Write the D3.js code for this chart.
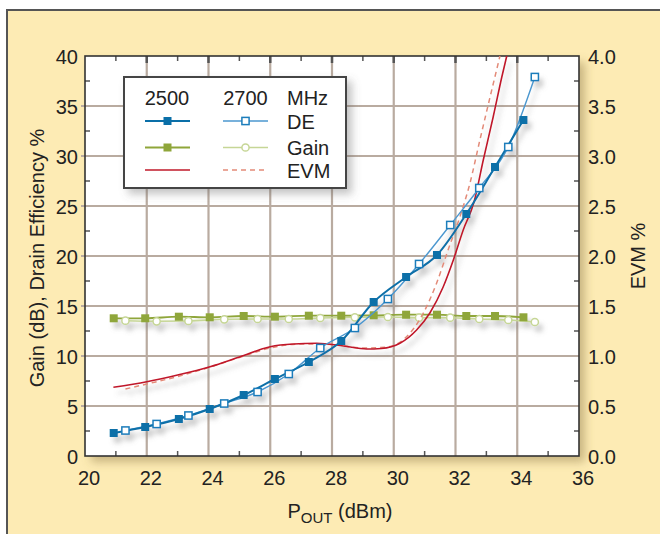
<!DOCTYPE html>
<html><head><meta charset="utf-8">
<script src="https://cdn.jsdelivr.net/npm/d3@7"></script>
<style>
html,body{margin:0;padding:0;background:#fff;}
svg{display:block;font-family:"Liberation Sans",Arial,Helvetica,sans-serif;}
</style></head>
<body>
<svg id="chart" width="660" height="534"></svg>
<script>
// ---- data ----
const pout2500 = [20.93,21.95,23.04,24.04,25.14,26.15,27.25,28.30,29.35,30.40,31.40,32.35,33.28,34.20];
const de2500   = [2.3,2.9,3.7,4.7,6.1,7.7,9.4,11.5,15.4,17.9,20.1,24.2,28.9,33.6];
const gain2500 = [13.77,13.77,13.93,13.87,14.0,13.93,14.03,14.03,14.07,14.13,14.13,14.0,14.0,13.87];
const pout2700 = [21.31,22.32,23.35,24.51,25.59,26.60,27.62,28.74,29.81,30.82,31.83,32.77,33.71,34.57];
const de2700   = [2.55,3.2,4.05,5.25,6.4,8.2,10.8,12.8,15.7,19.2,23.1,26.8,30.9,37.9];
const gain2700 = [13.53,13.47,13.5,13.67,13.7,13.7,13.8,13.87,13.9,13.83,13.83,13.7,13.6,13.4];
const evmX2500 = [20.92,22.0,23.0,24.05,25.0,26.0,26.75,27.5,28.37,29.12,29.6,30.2,30.74,31.17,31.6,31.93,32.25,32.6,32.9,33.22,33.5,33.66];
const evm2500  = [0.687,0.743,0.81,0.893,0.99,1.093,1.12,1.127,1.10,1.07,1.075,1.127,1.26,1.43,1.69,1.96,2.26,2.54,2.96,3.39,3.79,4.0];
const evmX2700 = [21.31,22.0,23.0,24.0,25.0,26.0,27.0,28.0,29.0,29.8,30.36,30.96,31.39,31.76,32.14,32.47,32.79,33.12,33.44];
const evm2700  = [0.67,0.72,0.795,0.885,0.985,1.08,1.12,1.115,1.08,1.09,1.177,1.43,1.73,2.06,2.39,2.73,3.16,3.59,4.0];
const xTicks = [20,22,24,26,28,30,32,34,36];
const yTicksL = [0,5,10,15,20,25,30,35,40];
const yTicksR = [0,0.5,1.0,1.5,2.0,2.5,3.0,3.5,4.0];

// ---- layout ----
const svg = d3.select("#chart");
const L = 85, R = 579, T = 56, B = 456;
const x = d3.scaleLinear().domain([20,36]).range([L,R]);
const y = d3.scaleLinear().domain([0,40]).range([B,T]);
const yR = d3.scaleLinear().domain([0,4]).range([B,T]);

const defs = svg.append("defs");
const f1 = defs.append("filter").attr("id","plotShadow").attr("x","-10%").attr("y","-10%").attr("width","130%").attr("height","130%");
f1.append("feDropShadow").attr("dx",6).attr("dy",6).attr("stdDeviation",5).attr("flood-color","#8a7340").attr("flood-opacity",0.45);
const f2 = defs.append("filter").attr("id","lineShadow").attr("x","-10%").attr("y","-10%").attr("width","130%").attr("height","130%");
f2.append("feDropShadow").attr("dx",4).attr("dy",6).attr("stdDeviation",2.5).attr("flood-color","#777").attr("flood-opacity",0.35);
const f3 = defs.append("filter").attr("id","boxShadow").attr("x","-10%").attr("y","-10%").attr("width","130%").attr("height","130%");
f3.append("feDropShadow").attr("dx",5).attr("dy",5).attr("stdDeviation",4).attr("flood-color","#666").attr("flood-opacity",0.4);
defs.append("clipPath").attr("id","plotClip").append("rect").attr("x",L).attr("y",T).attr("width",R-L).attr("height",B-T);

// frame
svg.append("rect").attr("x",7).attr("y",10).attr("width",700).attr("height",600)
  .attr("fill","#fdebb4").attr("stroke","#555").attr("stroke-width",2);

// plot background
svg.append("rect").attr("x",L).attr("y",T).attr("width",R-L).attr("height",B-T)
  .attr("fill","#fff").attr("filter","url(#plotShadow)");

// grid
const gridC = "#b9aba0";
const grid = svg.append("g");
grid.selectAll("line.gx").data(xTicks.slice(1,-1)).join("line")
  .attr("x1",d=>x(d)).attr("x2",d=>x(d)).attr("y1",T).attr("y2",B)
  .attr("stroke",gridC).attr("stroke-width",2.2);
grid.selectAll("line.gy").data(yTicksL.slice(1,-1)).join("line")
  .attr("x1",L-4).attr("x2",R).attr("y1",d=>y(d)).attr("y2",d=>y(d))
  .attr("stroke",gridC).attr("stroke-width",2.2);

// ticks
const tk = svg.append("g").attr("stroke","#555");
const minorX = d3.range(21,36,2);
const minorY = d3.range(2.5,40,5);
minorX.forEach(v=>{
  tk.append("line").attr("x1",x(v)).attr("x2",x(v)).attr("y1",T).attr("y2",T+5).attr("stroke-width",1.5);
  tk.append("line").attr("x1",x(v)).attr("x2",x(v)).attr("y1",B).attr("y2",B-5).attr("stroke-width",1.5);
});
xTicks.slice(1,-1).forEach(v=>{
  tk.append("line").attr("x1",x(v)).attr("x2",x(v)).attr("y1",T).attr("y2",T+7).attr("stroke-width",2.5);
});
minorY.forEach(v=>{
  tk.append("line").attr("x1",L).attr("x2",L+5).attr("y1",y(v)).attr("y2",y(v)).attr("stroke-width",1.5);
  tk.append("line").attr("x1",R).attr("x2",R-5).attr("y1",y(v)).attr("y2",y(v)).attr("stroke-width",1.5);
});

// plot border
svg.append("rect").attr("x",L).attr("y",T).attr("width",R-L).attr("height",B-T)
  .attr("fill","none").attr("stroke","#333").attr("stroke-width",1.6);

// tick labels
const txt = svg.append("g").attr("fill","#222").attr("font-size",20);
txt.selectAll("text.xl").data(xTicks).join("text")
  .attr("x",d=>x(d)+4).attr("y",485).attr("text-anchor","middle").text(d=>d);
txt.selectAll("text.yl").data(yTicksL).join("text")
  .attr("x",78).attr("y",d=>y(d)+8).attr("text-anchor","end").text(d=>d);
txt.selectAll("text.yr").data(yTicksR).join("text")
  .attr("x",588).attr("y",d=>yR(d)+8).attr("text-anchor","start").text(d=>d.toFixed(1));

// axis titles
svg.append("text").attr("transform","translate(44,258) rotate(-90)").attr("text-anchor","middle")
  .attr("font-size",20).attr("fill","#222").text("Gain (dB), Drain Efficiency %");
svg.append("text").attr("transform","translate(645,256) rotate(-90)").attr("text-anchor","middle")
  .attr("font-size",20).attr("fill","#222").text("EVM %");
const xt = svg.append("text").attr("x",340).attr("y",518).attr("text-anchor","middle").attr("font-size",20).attr("fill","#222");
xt.append("tspan").text("P");
xt.append("tspan").attr("font-size",15).attr("dy",5).text("OUT");
xt.append("tspan").attr("dy",-5).text(" (dBm)");

// ---- series ----
const C = {de25:"#0a6fa8", de27:"#4b97cf", de27m:"#1c7dbb", g25:"#8fa63a", g27:"#c6d696", e25:"#c0182a", e27:"#e38a78"};
const curve = d3.curveMonotoneX;
const zip = (xs,ys)=>xs.map((v,i)=>[v,ys[i]]);
const lineL = d3.line().x(d=>x(d[0])).y(d=>y(d[1])).curve(curve);
const lineR = d3.line().x(d=>x(d[0])).y(d=>yR(d[1])).curve(curve);

const data = svg.append("g").attr("filter","url(#lineShadow)");
const clipG = data.append("g").attr("clip-path","url(#plotClip)");

// gain
clipG.append("path").attr("d",lineL(zip(pout2700,gain2700))).attr("fill","none").attr("stroke",C.g27).attr("stroke-width",1.6);
clipG.append("path").attr("d",lineL(zip(pout2500,gain2500))).attr("fill","none").attr("stroke",C.g25).attr("stroke-width",1.8);
clipG.selectAll("circle.g27").data(zip(pout2700,gain2700)).join("circle")
  .attr("cx",d=>x(d[0])).attr("cy",d=>y(d[1])).attr("r",3.6).attr("fill","#fff").attr("stroke",C.g27).attr("stroke-width",1.5);
clipG.selectAll("rect.g25").data(zip(pout2500,gain2500)).join("rect")
  .attr("x",d=>x(d[0])-4).attr("y",d=>y(d[1])-4).attr("width",8).attr("height",8).attr("fill",C.g25);

// EVM
clipG.append("path").attr("d",lineR(zip(evmX2700,evm2700))).attr("fill","none").attr("stroke",C.e27).attr("stroke-width",1.5).attr("stroke-dasharray","5,4");
clipG.append("path").attr("d",lineR(zip(evmX2500,evm2500))).attr("fill","none").attr("stroke",C.e25).attr("stroke-width",1.6);

// DE
clipG.append("path").attr("d",lineL(zip(pout2700,de2700))).attr("fill","none").attr("stroke",C.de27).attr("stroke-width",1.4);
clipG.append("path").attr("d",lineL(zip(pout2500,de2500))).attr("fill","none").attr("stroke",C.de25).attr("stroke-width",2);
clipG.selectAll("rect.d27").data(zip(pout2700,de2700)).join("rect")
  .attr("x",d=>x(d[0])-3.6).attr("y",d=>y(d[1])-3.6).attr("width",7.2).attr("height",7.2)
  .attr("fill","#fff").attr("stroke",C.de27m).attr("stroke-width",1.5);
clipG.selectAll("rect.d25").data(zip(pout2500,de2500)).join("rect")
  .attr("x",d=>x(d[0])-4).attr("y",d=>y(d[1])-4).attr("width",8).attr("height",8).attr("fill",C.de25);

// ---- legend ----
const lg = svg.append("g");
lg.append("rect").attr("x",124).attr("y",77).attr("width",222).attr("height",111)
  .attr("fill","#fff").attr("stroke","#444").attr("stroke-width",2).attr("filter","url(#boxShadow)");
const lt = lg.append("g").attr("font-size",20).attr("fill","#222");
lt.append("text").attr("x",167).attr("y",105).attr("text-anchor","middle").text("2500");
lt.append("text").attr("x",245.5).attr("y",105).attr("text-anchor","middle").text("2700");
lt.append("text").attr("x",287).attr("y",105).text("MHz");
lt.append("text").attr("x",287).attr("y",128.5).text("DE");
lt.append("text").attr("x",287).attr("y",154.5).text("Gain");
lt.append("text").attr("x",287).attr("y",177.5).text("EVM");
const a1=145,a2=190,b1=223,b2=268,ma=167.5,mb=245.5;
// DE row
lg.append("line").attr("x1",a1).attr("x2",a2).attr("y1",121).attr("y2",121).attr("stroke",C.de25).attr("stroke-width",1.8);
lg.append("rect").attr("x",ma-4).attr("y",117).attr("width",8).attr("height",8).attr("fill",C.de25);
lg.append("line").attr("x1",b1).attr("x2",b2).attr("y1",121).attr("y2",121).attr("stroke",C.de27).attr("stroke-width",1.6);
lg.append("rect").attr("x",mb-3.6).attr("y",117.4).attr("width",7.2).attr("height",7.2).attr("fill","#fff").attr("stroke",C.de27m).attr("stroke-width",1.5);
// Gain row
lg.append("line").attr("x1",a1).attr("x2",a2).attr("y1",147.5).attr("y2",147.5).attr("stroke",C.g25).attr("stroke-width",1.8);
lg.append("rect").attr("x",ma-4).attr("y",143.5).attr("width",8).attr("height",8).attr("fill",C.g25);
lg.append("line").attr("x1",b1).attr("x2",b2).attr("y1",147.5).attr("y2",147.5).attr("stroke",C.g27).attr("stroke-width",1.6);
lg.append("circle").attr("cx",mb).attr("cy",147.5).attr("r",3.6).attr("fill","#fff").attr("stroke",C.g27).attr("stroke-width",1.5);
// EVM row
lg.append("line").attr("x1",a1).attr("x2",a2).attr("y1",170).attr("y2",170).attr("stroke",C.e25).attr("stroke-width",1.6);
lg.append("line").attr("x1",b1).attr("x2",b2).attr("y1",170).attr("y2",170).attr("stroke",C.e27).attr("stroke-width",1.5).attr("stroke-dasharray","5,4");
</script>
</body></html>
